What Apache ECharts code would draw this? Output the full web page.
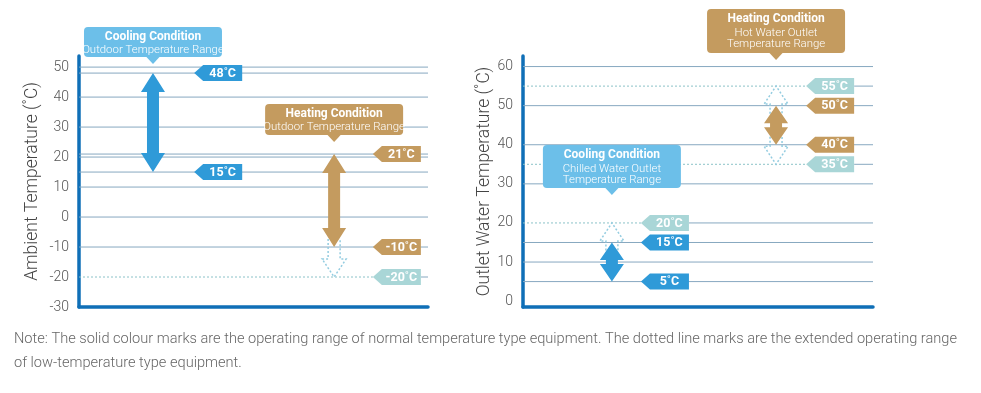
<!DOCTYPE html>
<html><head><meta charset="utf-8">
<script src="https://cdn.jsdelivr.net/npm/echarts@6/dist/echarts.min.js"></script>
<style>html,body{margin:0;padding:0;background:#fff}#c{width:981px;height:393px}</style>
</head><body><div id="c"></div>
<script>
// ---- data ----
const leftTicks = [-30, -20, -10, 0, 10, 20, 30, 40, 50];
const rightTicks = [0, 10, 20, 30, 40, 50, 60];
const leftSolidLines = [50, 48, 40, 30, 21, 20, 15, 10, 0, -10];
const leftDottedLines = [-20];
const rightSolidLines = [60, 50, 40, 30, 15, 10, 5];
const rightDottedLines = [55, 35, 20];
const leftCoolRange = [15, 48];
const leftHeatRange = [-10, 21];
const leftHeatExtended = [-20, 21];
const rightCoolRange = [5, 15];
const rightCoolExtended = [5, 20];
const rightHeatRange = [40, 50];
const rightHeatExtended = [35, 55];
const leftCoolTags = [48, 15];
const leftHeatTags = [21, -10];
const leftExtTags = [-20];
const rightCoolTags = [15, 5];
const rightCoolExtTags = [20];
const rightHeatTags = [50, 40];
const rightHeatExtTags = [55, 35];
const leftCoolCallout = ['Cooling Condition', 'Outdoor Temperature Range'];
const leftHeatCallout = ['Heating Condition', 'Outdoor Temperature Range'];
const rightCoolCallout = ['Cooling Condition', 'Chilled Water Outlet', 'Temperature Range'];
const rightHeatCallout = ['Heating Condition', 'Hot Water Outlet', 'Temperature Range'];
const leftAxisName = 'Ambient Temperature (˚C)';
const rightAxisName = 'Outlet Water Temperature (˚C)';
const note1 = 'Note: The solid colour marks are the operating range of normal temperature type equipment. The dotted line marks are the extended operating range';
const note2 = 'of low-temperature type equipment.';

// ---- style ----
const BLUE = '#2f9ad8', LBLUE = '#6cbfe9', BROWN = '#c49b5f', TEAL = '#a9d6d7';
const DOT = '#93cce0', GRID = '#87a8c0', DGRID = '#8cc3c8', AXIS = '#0f6fb7';
const LABEL_FONT = 'Roboto';
const TAG_W = 48;

function gridRender(dotted, tagX) {
  return function (params, api) {
    const v = api.value(1);
    const p0 = api.coord([0, v]), p1 = api.coord([100, v]);
    if (!dotted) {
      return { type: 'line', shape: { x1: p0[0], y1: p0[1], x2: p1[0], y2: p1[1] },
        style: { stroke: GRID, lineWidth: 1 } };
    }
    const tx = api.coord([tagX, v])[0];
    return { type: 'group', children: [
      { type: 'line', shape: { x1: p0[0], y1: p0[1], x2: tx, y2: p0[1] },
        style: { stroke: DGRID, lineWidth: 1, lineDash: [2, 2] } },
      { type: 'line', shape: { x1: tx + TAG_W, y1: p0[1], x2: p1[0], y2: p1[1] },
        style: { stroke: GRID, lineWidth: 1 } }
    ] };
  };
}

function rangeRender(color) {
  return function (params, api) {
    const xv = api.value(0);
    const pB = api.coord([xv, api.value(1)]), pT = api.coord([xv, api.value(2)]);
    const yEB = api.coord([xv, api.value(3)])[1], yET = api.coord([xv, api.value(4)])[1];
    const cx = pB[0], yB = pB[1], yT = pT[1];
    const hw = 12, sw = 6;
    const children = [];
    const dotted = { stroke: DOT, lineWidth: 1.5, lineDash: [2, 2], fill: null };
    if (yEB - yB > 1) {
      const eh = Math.min(18, yEB - yB), b = yEB - eh;
      children.push({ type: 'polyline', shape: { points: [[cx - sw, yB - 8], [cx - sw, b], [cx - hw, b], [cx, yEB], [cx + hw, b], [cx + sw, b], [cx + sw, yB - 8]] }, style: dotted });
    }
    if (yT - yET > 1) {
      const eh = Math.min(18, yT - yET), b = yET + eh;
      children.push({ type: 'polyline', shape: { points: [[cx - sw, yT + 8], [cx - sw, b], [cx - hw, b], [cx, yET], [cx + hw, b], [cx + sw, b], [cx + sw, yT + 8]] }, style: dotted });
    }
    const L = yB - yT, h = Math.min(19, L * 0.45);
    children.push({ type: 'polygon', shape: { points: [
      [cx, yT], [cx + hw, yT + h], [cx + sw, yT + h], [cx + sw, yB - h], [cx + hw, yB - h],
      [cx, yB], [cx - hw, yB - h], [cx - sw, yB - h], [cx - sw, yT + h], [cx - hw, yT + h]] },
      style: { fill: color } });
    return { type: 'group', children };
  };
}

function tagRender(color) {
  return function (params, api) {
    const v = api.value(1);
    const p = api.coord([api.value(0), v]);
    const x = p[0], y = p[1], w = TAG_W, hh = 8, tip = 9;
    return { type: 'group', children: [
      { type: 'polygon', shape: { points: [[x, y], [x + tip, y - hh], [x + w, y - hh], [x + w, y + hh], [x + tip, y + hh]] },
        style: { fill: color } },
      { type: 'text', style: { text: v + '˚C', x: x + tip + (w - tip) / 2, y: y + 0.5, align: 'center', verticalAlign: 'middle',
        fill: '#fff', font: 'bold 12.5px ' + LABEL_FONT } }
    ] };
  };
}

function calloutRender(lines, color, boxH, gap) {
  return function (params, api) {
    const p = api.coord([api.value(0), api.value(1)]);
    const cx = p[0], tipY = p[1] - gap, bb = tipY - 7, bt = bb - boxH;
    const children = [
      { type: 'rect', shape: { x: cx - 69, y: bt, width: 138, height: boxH, r: 4 }, style: { fill: color } },
      { type: 'polygon', shape: { points: [[cx - 7, bb - 0.5], [cx, tipY], [cx + 7, bb - 0.5]] }, style: { fill: color } }
    ];
    const offs = lines.length === 2 ? [9.5, 23.5] : [10, 24, 35.5];
    lines.forEach((t, i) => {
      children.push({ type: 'text', style: { text: t, x: cx, y: bt + offs[i], align: 'center', verticalAlign: 'middle',
        fill: '#fff', font: (i === 0 ? 'bold 12px ' : '300 11.4px ') + LABEL_FONT } });
    });
    return { type: 'group', children };
  };
}

function custom(idx, data, render, z) {
  return { type: 'custom', xAxisIndex: idx, yAxisIndex: idx, coordinateSystem: 'cartesian2d',
    data, renderItem: render, clip: false, z: z, silent: true, animation: false };
}

// layout x positions (percent of plot width)
const LX = { coolArrow: 21.2, heatArrow: 73.1, coolTag: 33.0, heatTag: 84.2 };
const RX = { coolArrow: 25.4, heatArrow: 72.3, coolTag: 33.7, heatTag: 80.9 };

const series = [
  // left chart
  custom(0, leftSolidLines.map(v => [50, v]), gridRender(false), 1),
  custom(0, leftDottedLines.map(v => [50, v]), gridRender(true, LX.heatTag), 1),
  custom(0, [[LX.coolArrow, leftCoolRange[0], leftCoolRange[1], leftCoolRange[0], leftCoolRange[1]]], rangeRender(BLUE), 3),
  custom(0, [[LX.heatArrow, leftHeatRange[0], leftHeatRange[1], leftHeatExtended[0], leftHeatExtended[1]]], rangeRender(BROWN), 3),
  custom(0, leftCoolTags.map(v => [LX.coolTag, v]), tagRender(BLUE), 4),
  custom(0, leftHeatTags.map(v => [LX.heatTag, v]), tagRender(BROWN), 4),
  custom(0, leftExtTags.map(v => [LX.heatTag, v]), tagRender(TEAL), 4),
  custom(0, [[LX.coolArrow, leftCoolRange[1]]], calloutRender(leftCoolCallout, LBLUE, 30, 9), 5),
  custom(0, [[LX.heatArrow, leftHeatExtended[1]]], calloutRender(leftHeatCallout, BROWN, 31, 12), 5),
  // right chart
  custom(1, rightSolidLines.map(v => [50, v]), gridRender(false), 1),
  custom(1, rightDottedLines.slice(0, 2).map(v => [50, v]), gridRender(true, RX.heatTag), 1),
  custom(1, rightDottedLines.slice(2).map(v => [50, v]), gridRender(true, RX.coolTag), 1),
  custom(1, [[RX.coolArrow, rightCoolRange[0], rightCoolRange[1], rightCoolExtended[0], rightCoolExtended[1]]], rangeRender(BLUE), 3),
  custom(1, [[RX.heatArrow, rightHeatRange[0], rightHeatRange[1], rightHeatExtended[0], rightHeatExtended[1]]], rangeRender(BROWN), 3),
  custom(1, rightCoolTags.map(v => [RX.coolTag, v]), tagRender(BLUE), 4),
  custom(1, rightCoolExtTags.map(v => [RX.coolTag, v]), tagRender(TEAL), 4),
  custom(1, rightHeatTags.map(v => [RX.heatTag, v]), tagRender(BROWN), 4),
  custom(1, rightHeatExtTags.map(v => [RX.heatTag, v]), tagRender(TEAL), 4),
  custom(1, [[RX.coolArrow, rightCoolExtended[1]]], calloutRender(rightCoolCallout, LBLUE, 43, 28), 5),
  custom(1, [[RX.heatArrow, rightHeatExtended[1]]], calloutRender(rightHeatCallout, BROWN, 44, 26), 5)
];

function xAx(idx) {
  return { gridIndex: idx, type: 'value', min: 0, max: 100,
    axisLine: { show: true, onZero: false, lineStyle: { color: AXIS, width: 3.5 } },
    axisTick: { show: false }, axisLabel: { show: false }, splitLine: { show: false } };
}
function yAx(idx, min, max, ticks, name, gap) {
  return { gridIndex: idx, type: 'value', min, max, name, nameLocation: 'middle', nameGap: gap,
    nameTextStyle: { fontFamily: LABEL_FONT, fontWeight: 300, fontSize: 17.5, color: '#444' },
    axisLine: { show: true, onZero: false, lineStyle: { color: AXIS, width: 3.5 } },
    axisTick: { show: false }, splitLine: { show: false },
    axisLabel: { customValues: ticks, margin: 10, fontFamily: LABEL_FONT, fontWeight: 300, fontSize: 14, color: '#555' } };
}

const chart = echarts.init(document.getElementById('c'), null, { renderer: 'canvas' });
chart.setOption({
  animation: false,
  backgroundColor: '#fff',
  grid: [
    { left: 79, top: 56, width: 349, height: 251 },
    { left: 523, top: 56, width: 350, height: 251 }
  ],
  xAxis: [xAx(0), xAx(1)],
  yAxis: [
    yAx(0, -30, 53.7, leftTicks, leftAxisName, 37),
    yAx(1, -1.5, 62.7, rightTicks, rightAxisName, 28)
  ],
  series,
  graphic: [
    { type: 'text', x: 14, y: 339, style: { text: note1, fill: '#666', font: '300 14.6px ' + LABEL_FONT, verticalAlign: 'middle' } },
    { type: 'text', x: 14, y: 363, style: { text: note2, fill: '#666', font: '300 14.6px ' + LABEL_FONT, verticalAlign: 'middle' } }
  ]
});
</script>
</body></html>
